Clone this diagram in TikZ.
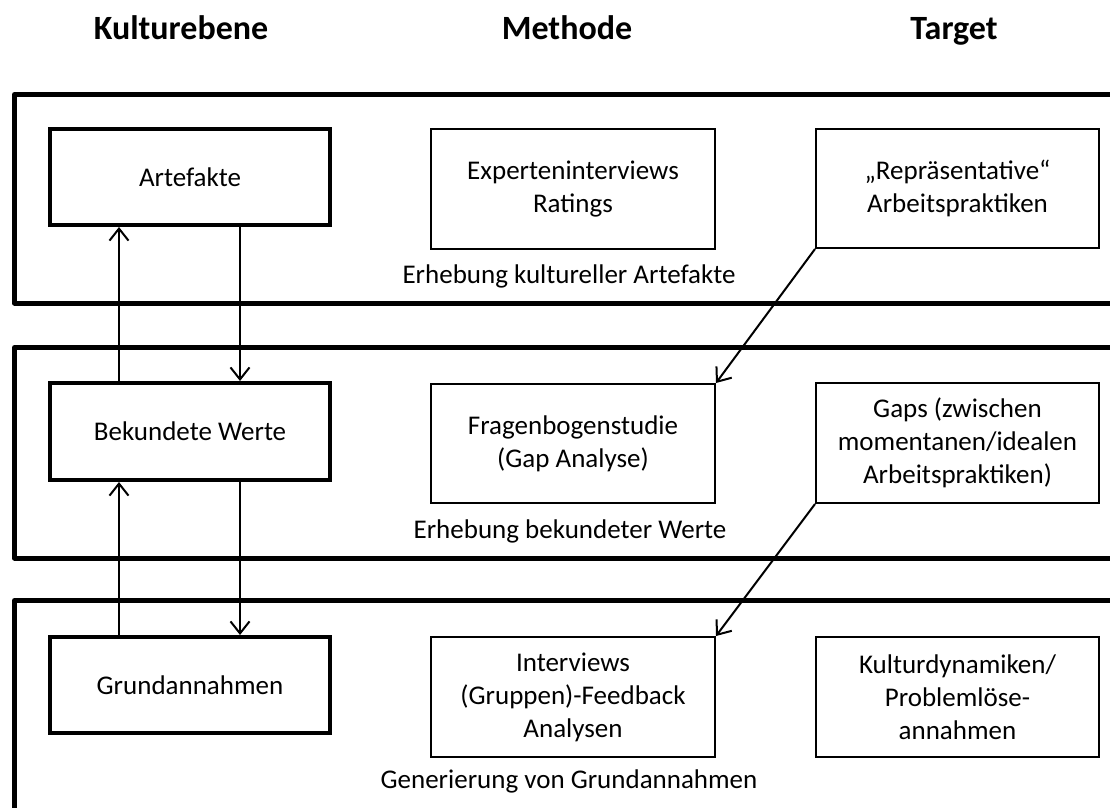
\documentclass[tikz,border=0pt]{standalone}
\usepackage{fontspec}
\setmainfont{Carlito}
\usetikzlibrary{arrows.meta}
\begin{document}
\begin{tikzpicture}[x=1pt,y=-1pt,
  band/.style={line width=5pt, line join=round},
  kbox/.style={draw, line width=4pt, minimum width=280pt, minimum height=96pt, inner sep=0pt, align=center, font=\fontsize{27}{33}\selectfont},
  mbox/.style={draw, line width=2pt, minimum width=284pt, minimum height=120pt, inner sep=0pt, align=center, font=\fontsize{27}{33}\selectfont},
  lbl/.style={anchor=base, inner sep=0pt, font=\fontsize{27}{33}\selectfont},
  hdr/.style={anchor=base, inner sep=0pt, font=\fontsize{34}{40}\selectfont\bfseries},
  arr/.style={line width=2pt, -{Straight Barb[length=12pt,width=19pt]}}]
\useasboundingbox (0,0) rectangle (1110,807);
\clip (0,0) rectangle (1110,807);
% headers
\node[hdr] (h1) at (181,39) {Kulturebene};
\node[hdr] (h2) at (567,39) {Methode};
\node[hdr] (h3) at (954,39) {Target};
% bands
\draw[band] (1130,94.5) -- (14.5,94.5) -- (14.5,303) -- (1130,303);
\draw[band] (1130,347.5) -- (14.5,347.5) -- (14.5,558) -- (1130,558);
\draw[band] (1130,600.5) -- (14.5,600.5) -- (14.5,830);
% Kulturebene column
\node[kbox] (art) at (190,177) {Artefakte};
\node[kbox, minimum height=97pt] (bw) at (190,431.5) {Bekundete Werte};
\node[kbox] (ga) at (190,685) {Grundannahmen};
% Methode column
\node[mbox] (exp) at (573,189) {Experteninterviews\\Ratings};
\node[mbox, minimum height=119pt] (frag) at (573,443.5) {Fragenbogenstudie\\(Gap Analyse)};
\node[mbox] (int) at (573,697) {Interviews\\(Gruppen)-Feedback\\Analysen};
\node[lbl] (l1) at (569,283) {Erhebung kultureller Artefakte};
\node[lbl] (l2) at (570,538) {Erhebung bekundeter Werte};
\node[lbl] (l3) at (569,788) {Generierung von Grundannahmen};
% Target column
\node[mbox, minimum width=283pt, minimum height=119pt] (rep) at (957.5,188.5) {„Repräsentative“\\Arbeitspraktiken};
\node[mbox, minimum width=283pt] (gaps) at (957.5,443) {Gaps (zwischen\\momentanen/idealen\\Arbeitspraktiken)};
\node[mbox, minimum width=283pt] (kd) at (957.5,697) {Kulturdynamiken/\\Problemlöse-\\annahmen};
% vertical arrows
\draw[arr] ([xshift=71pt]bw.north west) -- ([xshift=71pt]art.south west);
\draw[arr] ([xshift=-92pt]art.south east) -- ([xshift=-92pt]bw.north east);
\draw[arr] ([xshift=71pt]ga.north west) -- ([xshift=71pt]bw.south west);
\draw[arr] ([xshift=-92pt]bw.south east) -- ([xshift=-92pt]ga.north east);
% diagonal arrows
\draw[arr] (rep.south west) -- (frag.north east);
\draw[arr] (gaps.south west) -- (int.north east);
\end{tikzpicture}
\end{document}
